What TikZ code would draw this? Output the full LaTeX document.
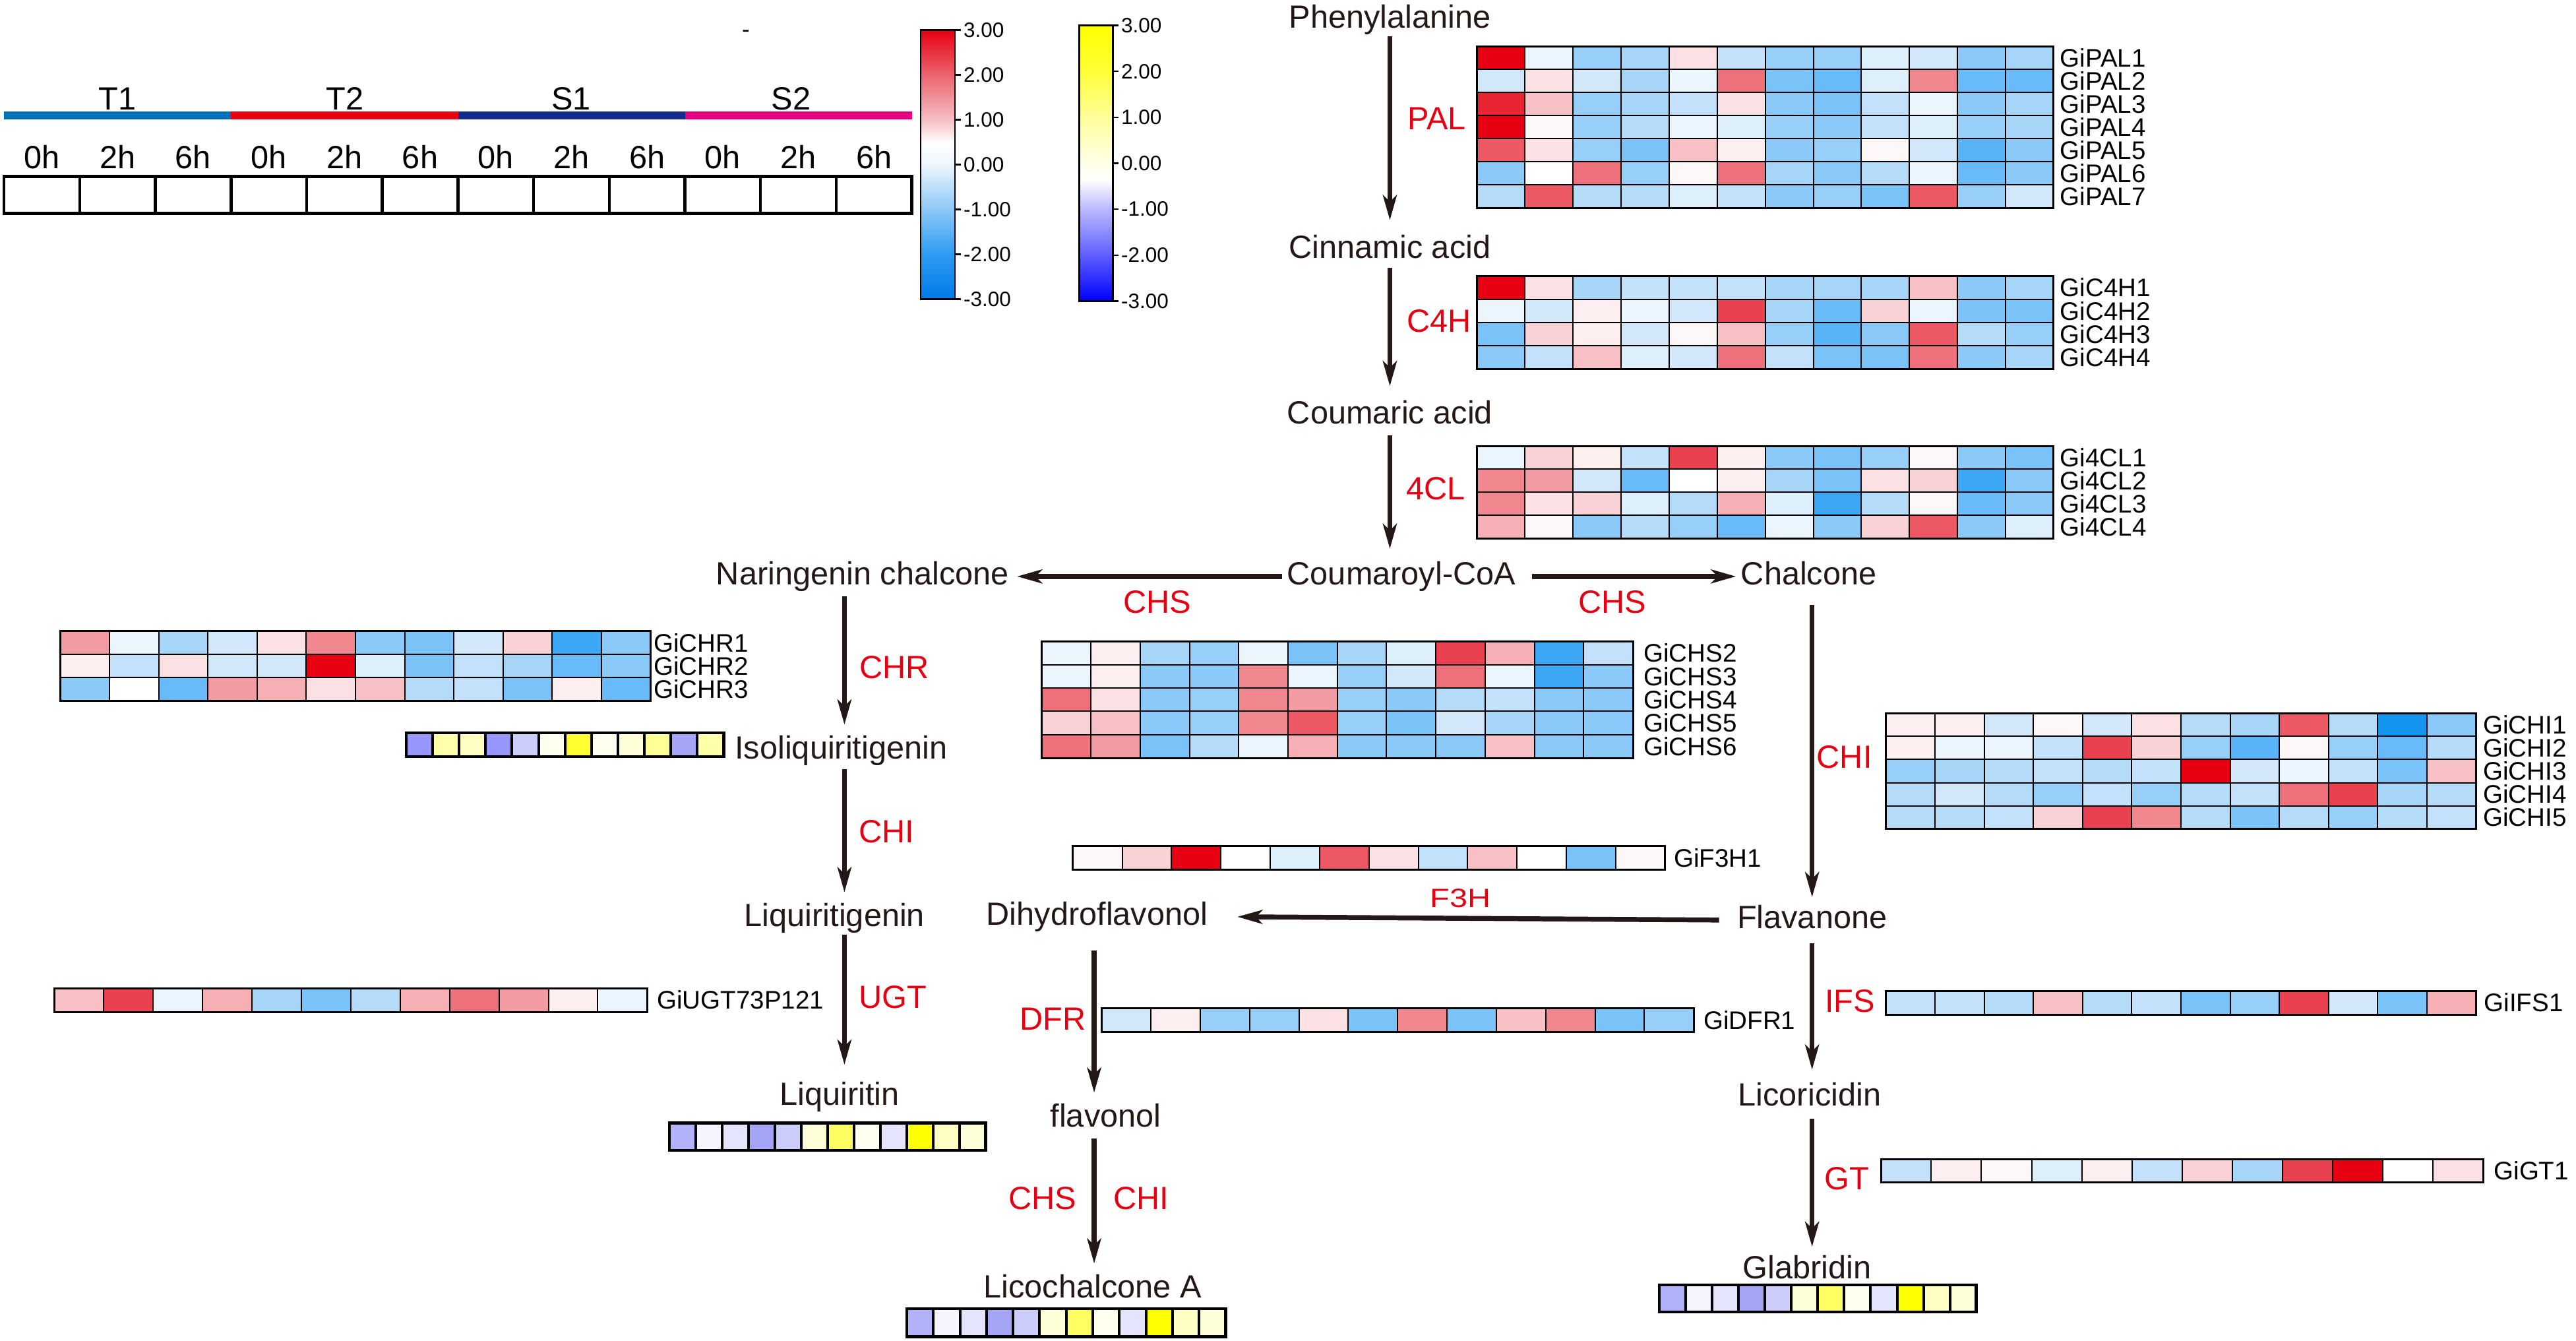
\documentclass[tikz,border=0pt]{standalone}
\usepackage{fontspec}
\setmainfont{Liberation Sans}
\usetikzlibrary{arrows.meta}
% heatmap palette (red-white-blue)
\definecolor{r5}{RGB}{230,0,18}
\definecolor{r45}{RGB}{232,35,50}
\definecolor{r4}{RGB}{234,65,80}
\definecolor{r35}{RGB}{236,88,100}
\definecolor{r3}{RGB}{238,112,122}
\definecolor{r25}{RGB}{240,135,143}
\definecolor{r2}{RGB}{242,155,162}
\definecolor{r15}{RGB}{245,175,181}
\definecolor{r1}{RGB}{247,192,197}
\definecolor{r05}{RGB}{249,210,214}
\definecolor{r0}{RGB}{251,225,228}
\definecolor{w1}{RGB}{253,238,239}
\definecolor{w0}{RGB}{254,247,247}
\definecolor{ww}{RGB}{255,255,255}
\definecolor{b0}{RGB}{235,245,253}
\definecolor{b05}{RGB}{222,239,252}
\definecolor{b1}{RGB}{210,232,250}
\definecolor{b15}{RGB}{195,225,250}
\definecolor{b2}{RGB}{180,219,248}
\definecolor{b25}{RGB}{166,213,248}
\definecolor{b3}{RGB}{152,207,248}
\definecolor{b35}{RGB}{138,201,248}
\definecolor{b4}{RGB}{122,195,248}
\definecolor{b45}{RGB}{104,187,248}
\definecolor{b5}{RGB}{88,180,247}
\definecolor{b6}{RGB}{60,168,245}
\definecolor{b7}{RGB}{20,150,240}
% yellow-white-blue palette
\definecolor{p3}{RGB}{150,150,250}
\definecolor{p25}{RGB}{165,165,248}
\definecolor{p2}{RGB}{178,178,250}
\definecolor{p1}{RGB}{205,205,252}
\definecolor{p05}{RGB}{228,228,252}
\definecolor{p0}{RGB}{245,245,255}
\definecolor{y0}{RGB}{255,255,240}
\definecolor{y05}{RGB}{255,255,215}
\definecolor{y1}{RGB}{255,255,195}
\definecolor{y15}{RGB}{255,255,170}
\definecolor{y2}{RGB}{255,255,150}
\definecolor{y3}{RGB}{255,255,100}
\definecolor{y35}{RGB}{255,255,50}
\definecolor{y4}{RGB}{255,255,0}
% other colours
\definecolor{ink}{RGB}{35,24,21}
\definecolor{enzred}{RGB}{230,0,18}
\definecolor{cT1}{RGB}{0,112,185}
\definecolor{cT2}{RGB}{230,0,18}
\definecolor{cS1}{RGB}{20,45,140}
\definecolor{cS2}{RGB}{228,0,127}
\definecolor{sb3}{RGB}{0,122,232}
\definecolor{sb2}{RGB}{45,155,242}
\definecolor{sb1}{RGB}{140,200,246}
\definecolor{sw0}{RGB}{238,246,254}
\definecolor{sr1}{RGB}{245,190,195}
\definecolor{sr2}{RGB}{236,100,110}
\definecolor{sr3}{RGB}{230,0,18}
\definecolor{qb3}{RGB}{0,0,255}
\definecolor{qb2}{RGB}{95,95,255}
\definecolor{qb1}{RGB}{185,185,255}
\definecolor{qy0}{RGB}{255,255,232}
\definecolor{qy1}{RGB}{255,255,155}
\definecolor{qy2}{RGB}{255,255,55}
\definecolor{qy3}{RGB}{255,255,0}
\pgfdeclareverticalshading{rbscale}{100bp}{color(0bp)=(sb3); color(25bp)=(sb3); color(33.33bp)=(sb2); color(41.67bp)=(sb1); color(50bp)=(sw0); color(54bp)=(white); color(58.33bp)=(sr1); color(66.67bp)=(sr2); color(75bp)=(sr3); color(100bp)=(sr3)}
\pgfdeclareverticalshading{ybscale}{100bp}{color(0bp)=(qb3); color(25bp)=(qb3); color(33.33bp)=(qb2); color(41.67bp)=(qb1); color(47bp)=(white); color(50bp)=(qy0); color(58.33bp)=(qy1); color(66.67bp)=(qy2); color(75bp)=(qy3); color(100bp)=(qy3)}
% one heatmap row: [line width]{x}{y}{cell w}{cell h}{row index}{colour list}
\newcommand{\hmrow}[7][0.2mm]{%
  \foreach \cc [count=\ii from 0] in {#7}{%
    \filldraw[fill=\cc, draw=black, line width=#1] ({#2+\ii*#4},{#3+#6*#5}) rectangle ++(#4,#5);}}
% outer frame: [line width]{x}{y}{cell w}{cell h}{rows}
\newcommand{\hmframe}[6][0.3mm]{\draw[line width=#1] (#2,#3) rectangle ++({12*#4},{#6*#5});}
\begin{document}
\begin{tikzpicture}[x=0.25mm, y=-0.25mm,
  every node/.style={inner sep=0pt, outer sep=0pt},
  comp/.style={anchor=base, text=ink, font=\fontsize{13.9}{16}\selectfont, text height=3.6mm, text depth=1mm},
  enz/.style={anchor=base, text=enzred, font=\fontsize{13.9}{16}\selectfont},
  gene/.style={anchor=west, text=black, font=\fontsize{11}{13}\selectfont},
  legtxt/.style={anchor=base, text=black, font=\fontsize{13.9}{16}\selectfont},
  scaletxt/.style={anchor=west, text=black, font=\fontsize{9}{11}\selectfont},
  arr/.style={draw=ink, line width=0.75mm, -{Stealth[length=3.8mm, width=2.1mm, inset=1mm]}}]
\useasboundingbox (0,0) rectangle (1568,816.1);

% ---------------- legend (groups and time points) ----------------
\fill[cT1] (2.5,68) rectangle (140.6,72.7);
\fill[cT2] (140.6,68) rectangle (278.8,72.7);
\fill[cS1] (278.8,68) rectangle (416.9,72.7);
\fill[cS2] (416.9,68) rectangle (555,72.7);
\node[legtxt] (gT1) at (71.5,66.9) {T1};
\node[legtxt] (gT2) at (210,66.9) {T2};
\node[legtxt] (gS1) at (347.6,66.9) {S1};
\node[legtxt] (gS2) at (481.5,66.9) {S2};
\foreach \t [count=\i from 0] in {0h,2h,6h,0h,2h,6h,0h,2h,6h,0h,2h,6h}{
  \node[legtxt] (tp\i) at ({2.5+(\i+0.5)*46.04},102.4) {\t};
  \draw[line width=0.45mm] ({2.5+\i*46.04},107.3) rectangle ++(46.04,22.5);}
\node[anchor=base, font=\fontsize{10}{12}\selectfont] (dash) at (454,22.6) {-};

% ---------------- colour scales ----------------
\shade[shading=rbscale] (560.4,18.2) rectangle (581.3,182.1);
\draw[line width=0.25mm] (560.4,18.2) rectangle (581.3,182.1);
\foreach \lab [count=\k from 0] in {3.00,2.00,1.00,0.00,-1.00,-2.00,-3.00}{
  \draw[line width=0.25mm] (581.3,{18.2+\k*27.32}) -- ++(3.5,0);
  \node[scaletxt] (rs\k) at (586.5,{18.2+\k*27.32}) {\lab};}
\shade[shading=ybscale] (657,15.5) rectangle (677.4,183.2);
\draw[line width=0.25mm] (657,15.5) rectangle (677.4,183.2);
\foreach \lab [count=\k from 0] in {3.00,2.00,1.00,0.00,-1.00,-2.00,-3.00}{
  \draw[line width=0.25mm] (677.4,{15.5+\k*27.95}) -- ++(3.5,0);
  \node[scaletxt] (ys\k) at (682.5,{15.5+\k*27.95}) {\lab};}

% ---------------- heatmaps ----------------
% PAL
\hmrow{899}{28.1}{29.25}{14.06}{0}{r5,b0,b3,b25,r0,b15,b3,b3,b05,b1,b35,b25}
\hmrow{899}{28.1}{29.25}{14.06}{1}{b1,r0,b1,b25,b0,r3,b4,b45,b05,r25,b45,b45}
\hmrow{899}{28.1}{29.25}{14.06}{2}{r45,r1,b3,b25,b15,r0,b35,b4,b15,b0,b35,b25}
\hmrow{899}{28.1}{29.25}{14.06}{3}{r5,w0,b3,b2,b0,b05,b3,b35,b15,b05,b3,b25}
\hmrow{899}{28.1}{29.25}{14.06}{4}{r35,r0,b3,b4,r1,w1,b35,b3,w0,b1,b5,b35}
\hmrow{899}{28.1}{29.25}{14.06}{5}{b35,ww,r3,b3,w0,r3,b25,b35,b2,b0,b45,b35}
\hmrow{899}{28.1}{29.25}{14.06}{6}{b2,r35,b2,b2,b05,b15,b35,b3,b4,r35,b3,b1}
\hmframe{899}{28.1}{29.25}{14.06}{7}
\foreach \i in {1,...,7}{\node[gene] (pal\i) at (1254,{28.1+(\i-0.5)*14.06}) {GiPAL\i};}
% C4H
\hmrow{899}{168}{29.25}{14.15}{0}{r5,r0,b25,b15,b15,b15,b25,b25,b25,r1,b35,b25}
\hmrow{899}{168}{29.25}{14.15}{1}{b0,b1,w1,b0,b1,r4,b25,b45,r05,b0,b4,b4}
\hmrow{899}{168}{29.25}{14.15}{2}{b4,r05,w1,b1,w0,r1,b3,b5,b35,r35,b2,b3}
\hmrow{899}{168}{29.25}{14.15}{3}{b35,b15,r1,b05,b1,r3,b15,b4,b4,r3,b35,b25}
\hmframe{899}{168}{29.25}{14.15}{4}
\foreach \i in {1,...,4}{\node[gene] (c4h\i) at (1254,{168+(\i-0.5)*14.15}) {GiC4H\i};}
% 4CL
\hmrow{899}{271.4}{29.25}{14.1}{0}{b0,r05,w1,b15,r4,w1,b35,b4,b3,w0,b35,b4}
\hmrow{899}{271.4}{29.25}{14.1}{1}{r25,r2,b1,b45,ww,w1,b25,b4,r0,r05,b6,b35}
\hmrow{899}{271.4}{29.25}{14.1}{2}{r25,r0,r05,b05,b2,r15,b05,b6,b2,w0,b45,b35}
\hmrow{899}{271.4}{29.25}{14.1}{3}{r15,w0,b35,b2,b3,b45,b0,b35,r05,r35,b35,b05}
\hmframe{899}{271.4}{29.25}{14.1}{4}
\foreach \i in {1,...,4}{\node[gene] (fcl\i) at (1254,{271.4+(\i-0.5)*14.1}) {Gi4CL\i};}
% CHR
\hmrow{36.8}{384.1}{29.93}{14.17}{0}{r2,b0,b25,b1,r0,r25,b35,b4,b1,r05,b6,b35}
\hmrow{36.8}{384.1}{29.93}{14.17}{1}{w1,b15,r0,b1,b1,r5,b05,b4,b15,b25,b45,b35}
\hmrow{36.8}{384.1}{29.93}{14.17}{2}{b35,ww,b45,r2,r15,r0,r1,b2,b15,b4,w1,b45}
\hmframe{36.8}{384.1}{29.93}{14.17}{3}
\foreach \i in {1,...,3}{\node[gene] (chr\i) at (398,{384.1+(\i-0.5)*14.17}) {GiCHR\i};}
% CHS
\hmrow{634}{390.3}{30}{14.2}{0}{b0,w1,b25,b3,b0,b4,b25,b05,r4,r15,b6,b15}
\hmrow{634}{390.3}{30}{14.2}{1}{b0,w1,b35,b35,r25,b0,b3,b1,r3,b0,b6,b35}
\hmrow{634}{390.3}{30}{14.2}{2}{r3,r0,b35,b3,r25,r2,b3,b35,b2,b15,b35,b35}
\hmrow{634}{390.3}{30}{14.2}{3}{r05,r1,b35,b3,r25,r35,b3,b4,b1,b25,b35,b35}
\hmrow{634}{390.3}{30}{14.2}{4}{r3,r2,b4,b2,b0,r15,b35,b35,b35,r1,b35,b35}
\hmframe{634}{390.3}{30}{14.2}{5}
\foreach \i [evaluate=\i as \n using int(\i+1)] in {1,...,5}{\node[gene] (chs\i) at (1000.5,{390.3+(\i-0.5)*14.2}) {GiCHS\n};}
% CHI
\hmrow{1148}{434}{29.92}{14.1}{0}{w1,w1,b1,w0,b1,r0,b2,b25,r35,b2,b7,b35}
\hmrow{1148}{434}{29.92}{14.1}{1}{w1,b0,b0,b15,r4,r05,b3,b5,w0,b3,b45,b2}
\hmrow{1148}{434}{29.92}{14.1}{2}{b3,b25,b2,b15,b2,b15,r5,b1,b0,b15,b4,r1}
\hmrow{1148}{434}{29.92}{14.1}{3}{b2,b1,b2,b3,b15,b3,b2,b15,r3,r4,b25,b2}
\hmrow{1148}{434}{29.92}{14.1}{4}{b2,b2,b15,r05,r4,r25,b2,b4,b2,b3,b2,b15}
\hmframe{1148}{434}{29.92}{14.1}{5}
\foreach \i in {1,...,5}{\node[gene] (chi\i) at (1511.5,{434+(\i-0.5)*14.1}) {GiCHI\i};}
% single-gene rows
\hmrow{653}{514.7}{30.04}{14.7}{0}{w0,r05,r5,ww,b05,r35,r0,b15,r1,ww,b4,w0}
\hmframe{653}{514.7}{30.04}{14.7}{1}
\node[gene] (f3h1) at (1019,{514.7+7.35}) {GiF3H1};
\hmrow{33}{601.4}{30.08}{14.4}{0}{r1,r4,b0,r15,b25,b4,b2,r15,r3,r2,w1,b0}
\hmframe{33}{601.4}{30.08}{14.4}{1}
\node[gene] (ugt1) at (400,{601.4+7.2}) {GiUGT73P121};
\hmrow{670.5}{613.7}{30.04}{14.2}{0}{b1,w1,b3,b3,r0,b4,r25,b4,r1,r25,b4,b3}
\hmframe{670.5}{613.7}{30.04}{14.2}{1}
\node[gene] (dfr1) at (1037,{613.7+7.1}) {GiDFR1};
\hmrow{1148}{603}{29.92}{14.4}{0}{b15,b15,b2,r1,b2,b15,b4,b3,r4,b1,b4,r15}
\hmframe{1148}{603}{29.92}{14.4}{1}
\node[gene] (ifs1) at (1512,{603+7.2}) {GiIFS1};
\hmrow{1145}{705.5}{30.54}{14}{0}{b15,w1,w0,b05,w1,b15,r05,b25,r4,r5,ww,r0}
\hmframe{1145}{705.5}{30.54}{14}{1}
\node[gene] (gt1) at (1518,{705.5+7}) {GiGT1};
% metabolite strips (yellow-blue)
\hmrow[0.4mm]{247.3}{446}{16.1}{14.5}{0}{p3,y15,y1,p3,p1,y0,y35,y0,y05,y2,p25,y15}
\hmframe[0.45mm]{247.3}{446}{16.1}{14.5}{1}
\hmrow[0.4mm]{407.5}{683.5}{16.04}{16.5}{0}{p2,p0,p05,p25,p1,y05,y3,y0,p05,y4,y1,y05}
\hmframe[0.45mm]{407.5}{683.5}{16.04}{16.5}{1}
\hmrow[0.4mm]{552}{796.5}{16.17}{17}{0}{p2,p0,p05,p25,p1,y05,y3,y0,p05,y4,y1,y05}
\hmframe[0.45mm]{552}{796.5}{16.17}{17}{1}
\hmrow[0.4mm]{1010}{782}{16.08}{16.5}{0}{p2,p0,p05,p25,p1,y05,y3,y0,p05,y4,y1,y05}
\hmframe[0.45mm]{1010}{782}{16.08}{16.5}{1}

% ---------------- compounds ----------------
\node[comp] (phe) at (846,17) {Phenylalanine};
\node[comp] (cin) at (846,157) {Cinnamic acid};
\node[comp] (cou) at (846,258) {Coumaric acid};
\node[comp] (coa) at (853,356) {Coumaroyl-CoA};
\node[comp] (nar) at (525,356) {Naringenin chalcone};
\node[comp] (chal) at (1101,356) {Chalcone};
\node[comp] (iso) at (512,462) {Isoliquiritigenin};
\node[comp] (liqg) at (508,564) {Liquiritigenin};
\node[comp] (liq) at (511,672.4) {Liquiritin};
\node[comp] (dhf) at (667.8,563) {Dihydroflavonol};
\node[comp] (flav) at (673,686) {flavonol};
\node[comp] (lico) at (665,790) {Licochalcone A};
\node[comp] (flv) at (1103,565.2) {Flavanone};
\node[comp] (licr) at (1101.5,673) {Licoricidin};
\node[comp] (glab) at (1100,778) {Glabridin};
\coordinate (colL) at (514,0);
\coordinate (colM) at (666,0);
\coordinate (colR) at (1103,0);

% ---------------- enzymes ----------------
\node[enz] (ePAL) at (874.5,79) {PAL};
\node[enz] (eC4H) at (876,202) {C4H};
\node[enz] (e4CL) at (874,304) {4CL};
\node[enz] (eCHSa) at (704.5,373) {CHS};
\node[enz] (eCHSb) at (981.5,373) {CHS};
\node[enz] (eCHR) at (544.5,413) {CHR};
\node[enz] (eCHIa) at (539.5,513) {CHI};
\node[enz] (eUGT) at (543.6,613.5) {UGT};
\node[enz] (eCHIb) at (1122.7,467.3) {CHI};
\node[enz] (eF3H) at (889,552) {\scalebox{1}[0.82]{F3H}};
\node[enz] (eDFR) at (640.8,627) {DFR};
\node[enz] (eIFS) at (1126,616) {IFS};
\node[enz] (eGT) at (1124,724) {GT};
\node[enz] (eCHSc) at (634.5,736) {CHS};
\node[enz] (eCHIc) at (694.5,736) {CHI};

% ---------------- arrows ----------------
\draw[arr, shorten <=0.25mm, shorten >=2.15mm] (phe.south) -- (cin.north);
\draw[arr, shorten <=0.5mm, shorten >=2.15mm] (cin.south) -- (cou.north);
\draw[arr, shorten <=0.75mm, shorten >=1.9mm] (cou.south) -- (cou.south |- coa.north);
\draw[arr, shorten <=0.75mm, shorten >=1.25mm] (coa.west) -- (nar.east);
\draw[arr, shorten <=2.5mm, shorten >=0.75mm] (coa.east) -- (chal.west);
\draw[arr, shorten <=0.75mm, shorten >=1.65mm] (nar.south -| colL) -- (iso.north -| colL);
\draw[arr, shorten <=0.5mm, shorten >=1.65mm] (iso.south -| colL) -- (liqg.north -| colL);
\draw[arr, shorten <=0.25mm, shorten >=2.5mm] (liqg.south -| colL) -- (liq.north -| colL);
\draw[arr, shorten <=2mm, shorten >=1.2mm] (chal.south -| colR) -- (flv.north -| colR);
\draw[arr, shorten <=2.75mm, shorten >=4.5mm] (flv.west) -- (dhf.east);
\draw[arr, shorten <=2.9mm, shorten >=1.65mm] (dhf.south -| colM) -- (flav.north -| colM);
\draw[arr, shorten <=0.75mm, shorten >=1.65mm] (flav.south -| colM) -- (lico.north -| colM);
\draw[arr, shorten <=1.25mm, shorten >=1.9mm] (flv.south -| colR) -- (licr.north -| colR);
\draw[arr, shorten <=1mm, shorten >=1.2mm] (licr.south -| colR) -- (glab.north -| colR);
\end{tikzpicture}
\end{document}
